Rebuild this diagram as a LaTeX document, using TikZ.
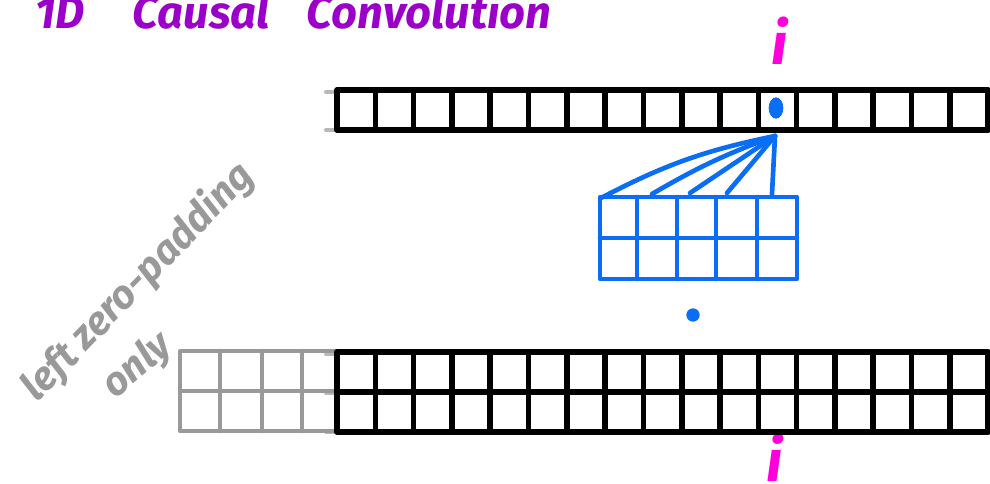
\documentclass[tikz,border=0pt]{standalone}
\usepackage{fontspec}
\setmainfont{Fira Sans}
\definecolor{ttl}{HTML}{9B00C8}
\definecolor{mag}{HTML}{FF00DD}
\definecolor{kblue}{HTML}{0A6EF5}
\definecolor{pgray}{HTML}{999999}
\begin{document}
\begin{tikzpicture}[x=0.75pt,y=-0.75pt,line join=round,line cap=round,
  blk/.style={line width=4.2pt,black},
  blu/.style={line width=3.5pt,kblue},
  gry/.style={line width=3.5pt,pgray},
  stub/.style={line width=3pt,pgray!70}]
\useasboundingbox (0,0) rectangle (990,483);
% title
\node[anchor=base west,inner sep=0,text=ttl,font=\fontsize{34}{34}\selectfont\itshape\bfseries] (title) at (35,28) {1D\hspace{36pt}Causal\hspace{28pt}Convolution};
% top array
\draw[stub] (326,92) -- (337,92) (326,130) -- (337,130);
\draw[blk] (337,90) rectangle (988,130);
\foreach \k in {1,...,16} \draw[blk] ({337+\k*38.3},90) -- ({337+\k*38.3},130);
\fill[kblue] (776,108) ellipse (5.5pt and 8pt);
\coordinate (apex) at (775,136);
% magenta i's
\node[text=mag,font=\fontsize{44}{44}\selectfont\itshape\bfseries,inner sep=0,anchor=base] (itop) at (780,64) {i};
\node[text=mag,font=\fontsize{44}{44}\selectfont\itshape\bfseries,inner sep=0,anchor=base] (ibot) at (775,481) {i};
% kernel
\coordinate (k1) at (601,198);
\coordinate (k2) at (652,194);
\coordinate (k3) at (690,193);
\coordinate (k4) at (727,193);
\coordinate (k5) at (772,194);
\draw[blu] (apex) to[bend right=8] (k1);
\draw[blu] (apex) to[bend right=5] (k2);
\draw[blu] (apex) -- (k3);
\draw[blu] (apex) -- (k4);
\draw[blu] (apex) -- (k5);
\draw[blu] (600,197) rectangle (797,279);
\draw[blu] (600,238) -- (797,238);
\foreach \x in {637,677,716,757} \draw[blu] (\x,197) -- (\x,279);
\fill[kblue] (693,315) circle (5pt);
% bottom array
\draw[stub] (326,354) -- (337,354) (326,393) -- (337,393) (326,432) -- (337,432);
\draw[gry] (180,351) rectangle (337,431);
\draw[gry] (180,391) -- (337,391);
\foreach \x in {220,262,302} \draw[gry] (\x,351) -- (\x,431);
\draw[blk] (337,352) rectangle (988,432);
\draw[blk] (337,392) -- (988,392);
\foreach \k in {1,...,16} \draw[blk] ({337+\k*38.3},352) -- ({337+\k*38.3},432);
% gray labels
\node[text=pgray,font=\fontsize{30}{30}\selectfont\itshape\bfseries,rotate=46,inner sep=0] (pad) at (138,282) {left zero-padding};
\node[text=pgray,font=\fontsize{30}{30}\selectfont\itshape\bfseries,rotate=40,inner sep=0] (only) at (138,366) {only};
\end{tikzpicture}
\end{document}
